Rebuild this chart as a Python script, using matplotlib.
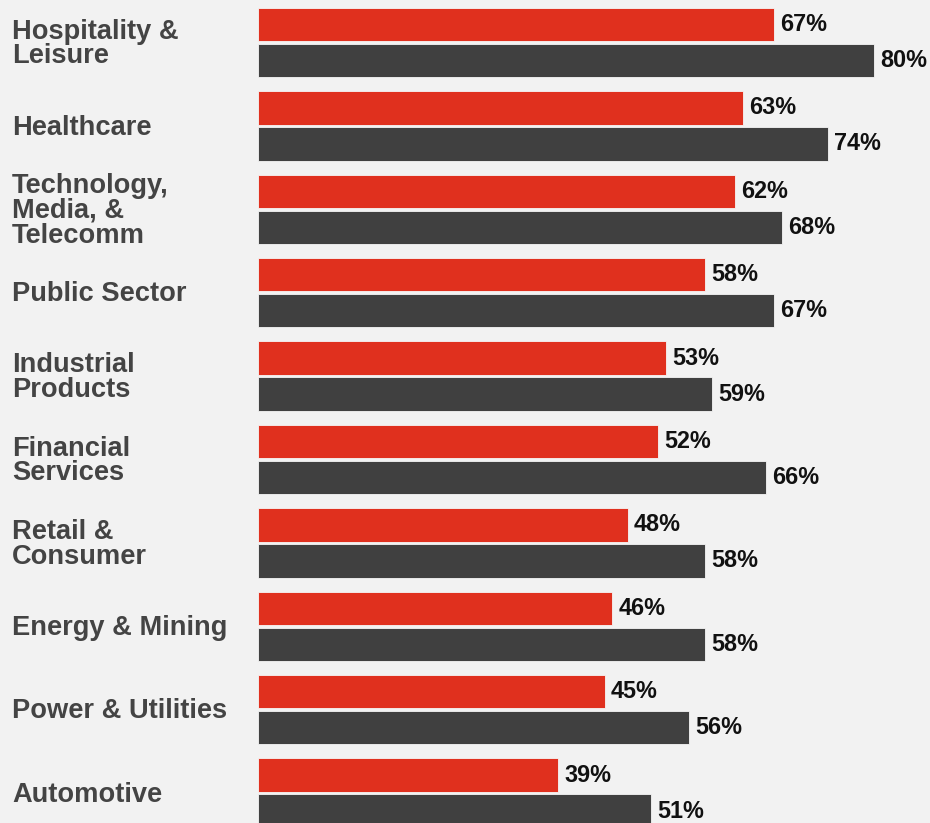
import numpy as np
import matplotlib as mpl
import matplotlib.pyplot as plt

mpl.rcParams['font.family'] = ['Liberation Sans', 'DejaVu Sans']

categories = ['Hospitality &\nLeisure', 'Healthcare', 'Technology,\nMedia, &\nTelecomm',
              'Public Sector', 'Industrial\nProducts', 'Financial\nServices',
              'Retail &\nConsumer', 'Energy & Mining', 'Power & Utilities', 'Automotive']
red_vals = [67, 63, 62, 58, 53, 52, 48, 46, 45, 39]
gray_vals = [80, 74, 68, 67, 59, 66, 58, 58, 56, 51]

bg = '#f2f2f2'
red = '#e0301e'
dark = '#404040'

fig = plt.figure(figsize=(9.3, 8.23), dpi=100, facecolor=bg)
ax = fig.add_axes([258 / 930, 0, 1 - 258 / 930, 1])
ax.set_facecolor(bg)

y = np.arange(len(categories))
off = 0.216
h = 0.40
ax.barh(y - off, red_vals, height=h, color=red, edgecolor='#f6f6f6', linewidth=0.6)
ax.barh(y + off, gray_vals, height=h, color=dark, edgecolor='#f6f6f6', linewidth=0.6)

lab_tr = mpl.transforms.blended_transform_factory(fig.transFigure, ax.transData)
for i in range(len(categories)):
    ax.text(red_vals[i] + 0.8, y[i] - off, f'{red_vals[i]}%', va='center', ha='left',
            fontsize=16.8, fontweight='bold', color='#111111')
    ax.text(gray_vals[i] + 0.8, y[i] + off, f'{gray_vals[i]}%', va='center', ha='left',
            fontsize=16.8, fontweight='bold', color='#111111')
    ax.text(12 / 930, y[i] + 0.02, categories[i], transform=lab_tr,
            va='center', ha='left', fontsize=19.6, fontweight='bold', color='#444444', linespacing=0.93)

ax.set_xlim(0, (930 - 258) / 7.7)
ax.set_ylim((823 - 42.5) / 83.4, -42.5 / 83.4)
ax.axis('off')

fig.savefig('out.png', dpi=100, facecolor=bg)
